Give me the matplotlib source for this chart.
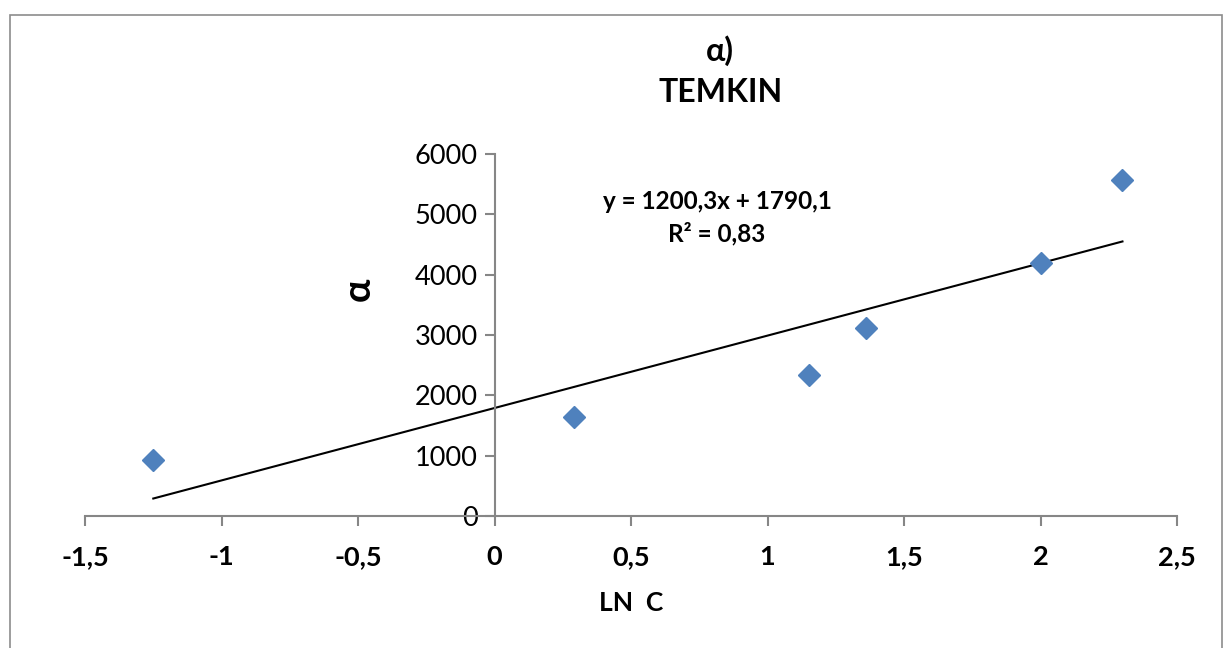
import numpy as np
import matplotlib.pyplot as plt
from matplotlib.patches import Rectangle

plt.rcParams["font.family"] = ["Lato", "DejaVu Sans"]

ln_c = [-1.25, 0.29, 1.15, 1.36, 2.00, 2.30]
q = [935, 1645, 2335, 3115, 4190, 5575]

slope = 1200.3
intercept = 1790.1
eq_text = "y = 1200,3x + 1790,1\nR² = 0,83"

x_ticks = [-1.5, -1, -0.5, 0, 0.5, 1, 1.5, 2, 2.5]
x_tick_labels = ["-1,5", "-1", "-0,5", "0", "0,5", "1", "1,5", "2", "2,5"]
y_ticks = [0, 1000, 2000, 3000, 4000, 5000, 6000]

fig = plt.figure(figsize=(12.27, 6.48), dpi=100)
fig.patches.append(Rectangle((0.008, -0.05), 0.988, 1.027, transform=fig.transFigure,
                             fill=False, edgecolor="#8c8c8c", linewidth=1.2))

ax = fig.add_axes([0.0693, 0.2037, 0.890, 0.5586])

ax.plot(ln_c, q, linestyle="none", marker="D", markersize=11.5,
        color="#4f81bd", zorder=3)

# trendline drawn over data range
x_fit = np.array([min(ln_c), max(ln_c)])
ax.plot(x_fit, slope * x_fit + intercept, color="black", linewidth=1.5)

ax.set_xlim(-1.5, 2.5)
ax.set_ylim(0, 6000)

ax.spines["top"].set_visible(False)
ax.spines["right"].set_visible(False)
ax.spines["left"].set_position(("data", 0))
ax.spines["left"].set_color("#868686")
ax.spines["bottom"].set_color("#868686")
ax.spines["left"].set_linewidth(1.5)
ax.spines["bottom"].set_linewidth(1.5)

ax.set_xticks(x_ticks)
ax.set_xticklabels(x_tick_labels, fontsize=19.5, fontweight="bold")
ax.set_yticks(y_ticks)
ax.set_yticklabels([str(v) for v in y_ticks], fontsize=19.5)
ax.tick_params(axis="x", direction="out", length=7, width=1.5, color="#868686", pad=14)
ax.tick_params(axis="y", direction="out", length=7, width=1.5, color="#868686", pad=5)

ax.set_xlabel("LN  C", fontsize=19, fontweight="bold", labelpad=16)
ax.text(-0.5, 3750, "α", fontsize=28, fontweight="bold", rotation=90,
        ha="center", va="center")

ax.text(0.815, 4950, eq_text, fontsize=17.5, fontweight="bold",
        ha="center", va="center", linespacing=1.45)

fig.text(0.587, 0.89, "α)\nTEMKIN", fontsize=23, fontweight="bold",
         ha="center", va="center", linespacing=1.5)

fig.savefig("out.png", dpi=100)
